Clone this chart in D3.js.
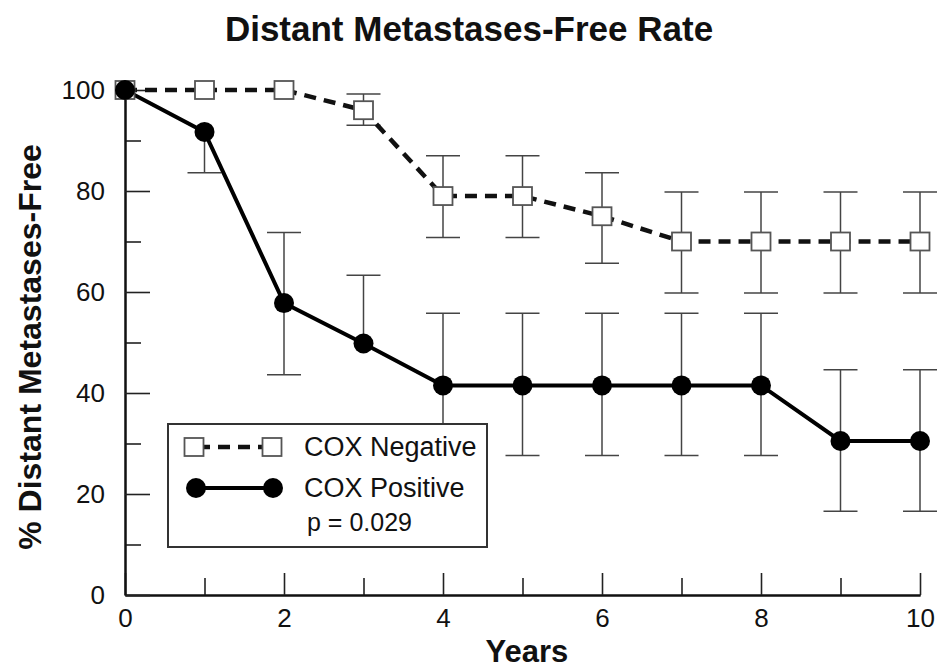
<!DOCTYPE html>
<html>
<head>
<meta charset="utf-8">
<script src="https://cdn.jsdelivr.net/npm/d3@7"></script>
<style>
	body { margin: 0; background: #fff; }
	text { font-family: "Liberation Sans", Arial, Helvetica, sans-serif; fill: #111; }
</style>
</head>
<body>
<div class="chart"></div>
<script>
// data
const years = [0, 1, 2, 3, 4, 5, 6, 7, 8, 9, 10];
const negRate  = [100, 100, 100, 96, 79, 79, 75, 70, 70, 70, 70];
const negUpper = [null, null, null, 99.2, 87, 87, 83.6, 79.8, 79.8, 79.8, 79.8];
const negLower = [null, null, null, 93, 70.8, 70.8, 65.7, 59.8, 59.8, 59.8, 59.8];
const posRate  = [100, 91.7, 57.8, 49.8, 41.5, 41.5, 41.5, 41.5, 41.5, 30.5, 30.5];
const posUpper = [null, null, 71.8, 63.3, 55.8, 55.8, 55.8, 55.8, 55.8, 44.6, 44.6];
const posLower = [null, 83.6, 43.6, null, 27.6, 27.6, 27.6, 27.6, 27.6, 16.6, 16.6];
const yMajor = [0, 20, 40, 60, 80, 100];
const yMinor = [10, 30, 50, 70, 90];
const xMajor = [0, 2, 4, 6, 8, 10];
const xMinor = [1, 3, 5, 7, 9];
const seriesNames = ["COX Negative", "COX Positive"];
const pText = "p = 0.029";

let margin = {top: 90, right: 19, left: 125, bottom: 76};
let outWidth = 939, outHeight = 671;
let width = outWidth - margin.left - margin.right,
	height = outHeight - margin.top - margin.bottom;

const svg = d3.select('.chart').append('svg')
	.attr("width", outWidth)
	.attr("height", outHeight);

const g = svg.append("g")
	.attr("transform", `translate(${margin.left}, ${margin.top})`);

const xScale = d3.scaleLinear().domain([0, 10]).range([0, width]);
const yScale = d3.scaleLinear().domain([0, 100]).range([height, 0]);

// axes (ticks point inward)
function styleAxis(sel) {
	sel.select(".domain").attr("stroke", "#111").attr("stroke-width", 2);
	sel.selectAll(".tick line").attr("stroke", "#222").attr("stroke-width", 1.6);
	sel.selectAll(".tick text").style("font-size", "26px").attr("fill", "#111");
}
g.append("g").attr("class", "axis x-minor")
	.attr("transform", `translate(0, ${height})`)
	.call(d3.axisBottom(xScale).tickValues(xMinor).tickSize(-17).tickSizeOuter(0).tickFormat(""))
	.call(styleAxis);
g.append("g").attr("class", "axis y-minor")
	.call(d3.axisLeft(yScale).tickValues(yMinor).tickSize(-16).tickSizeOuter(0).tickFormat(""))
	.call(styleAxis);
g.append("g").attr("class", "axis x-axis")
	.attr("transform", `translate(0, ${height})`)
	.call(d3.axisBottom(xScale).tickValues(xMajor).tickSize(-22).tickSizeOuter(0).tickPadding(14))
	.call(styleAxis);
g.append("g").attr("class", "axis y-axis")
	.call(d3.axisLeft(yScale).tickValues(yMajor).tickSize(-25).tickSizeOuter(0).tickPadding(20))
	.call(styleAxis);

const line = d3.line().x(d => xScale(d[0])).y(d => yScale(d[1]));
const negPts = years.map((y, i) => [y, negRate[i]]);
const posPts = years.map((y, i) => [y, posRate[i]]);

// error bars
function errorBars(rate, upper, lower) {
	const bars = [];
	years.forEach((y, i) => {
		if (upper[i] != null) bars.push([y, rate[i], upper[i]]);
		if (lower[i] != null) bars.push([y, rate[i], lower[i]]);
	});
	const eg = g.append("g").attr("stroke", "#444").attr("stroke-width", 1.5);
	eg.selectAll("line.v").data(bars).enter().append("line")
		.attr("x1", d => xScale(d[0])).attr("x2", d => xScale(d[0]))
		.attr("y1", d => yScale(d[1])).attr("y2", d => yScale(d[2]));
	eg.selectAll("line.cap").data(bars).enter().append("line")
		.attr("x1", d => xScale(d[0]) - 17).attr("x2", d => xScale(d[0]) + 17)
		.attr("y1", d => yScale(d[2])).attr("y2", d => yScale(d[2]));
}
errorBars(negRate, negUpper, negLower);
errorBars(posRate, posUpper, posLower);

g.append("path").datum(negPts)
	.attr("d", line).attr("fill", "none")
	.attr("stroke", "#111").attr("stroke-width", 4.5)
	.attr("stroke-dasharray", "12,8");
g.append("path").datum(posPts)
	.attr("d", line).attr("fill", "none")
	.attr("stroke", "#000").attr("stroke-width", 4);

g.selectAll("rect.neg").data(negPts).enter().append("rect")
	.attr("x", d => xScale(d[0]) - 9.5).attr("y", d => yScale(d[1]) - 9)
	.attr("width", 19).attr("height", 18)
	.attr("fill", "#fff").attr("stroke", "#555").attr("stroke-width", 1.8);
g.selectAll("circle.pos").data(posPts).enter().append("circle")
	.attr("cx", d => xScale(d[0])).attr("cy", d => yScale(d[1]))
	.attr("r", 10).attr("fill", "#000");

// titles
svg.append("text")
	.attr("x", 469).attr("y", 41)
	.attr("text-anchor", "middle")
	.style("font-size", "35px").style("font-weight", "bold")
	.text("Distant Metastases-Free Rate");
svg.append("text")
	.attr("x", 527).attr("y", 662)
	.attr("text-anchor", "middle")
	.style("font-size", "31px").style("font-weight", "bold")
	.text("Years");
svg.append("text")
	.attr("transform", "translate(41, 347) rotate(-90)")
	.attr("text-anchor", "middle")
	.style("font-size", "32px").style("font-weight", "bold")
	.text("% Distant Metastases-Free");

// legend
const lg = svg.append("g").attr("transform", "translate(168, 424)");
lg.append("rect")
	.attr("width", 319).attr("height", 123)
	.attr("fill", "#fff").attr("stroke", "#333").attr("stroke-width", 2);
lg.append("line")
	.attr("x1", 26).attr("x2", 104).attr("y1", 23).attr("y2", 23)
	.attr("stroke", "#111").attr("stroke-width", 4.5).attr("stroke-dasharray", "12,8")
	.attr("stroke-dashoffset", -4);
lg.selectAll("rect.key").data([26, 104]).enter().append("rect")
	.attr("x", d => d - 9.5).attr("y", 14).attr("width", 19).attr("height", 18)
	.attr("fill", "#fff").attr("stroke", "#555").attr("stroke-width", 1.8);
lg.append("line")
	.attr("x1", 28).attr("x2", 105).attr("y1", 64).attr("y2", 64)
	.attr("stroke", "#000").attr("stroke-width", 4);
lg.selectAll("circle.key").data([28, 105]).enter().append("circle")
	.attr("cx", d => d).attr("cy", 64).attr("r", 10).attr("fill", "#000");
lg.selectAll("text.key").data(seriesNames).enter().append("text")
	.attr("x", 136).attr("y", (_, i) => 32 + i * 41)
	.style("font-size", "27px").attr("fill", "#222")
	.text(d => d);
lg.append("text")
	.attr("x", 139).attr("y", 107)
	.style("font-size", "25px").attr("fill", "#222")
	.text(pText);
</script>
</body>
</html>
